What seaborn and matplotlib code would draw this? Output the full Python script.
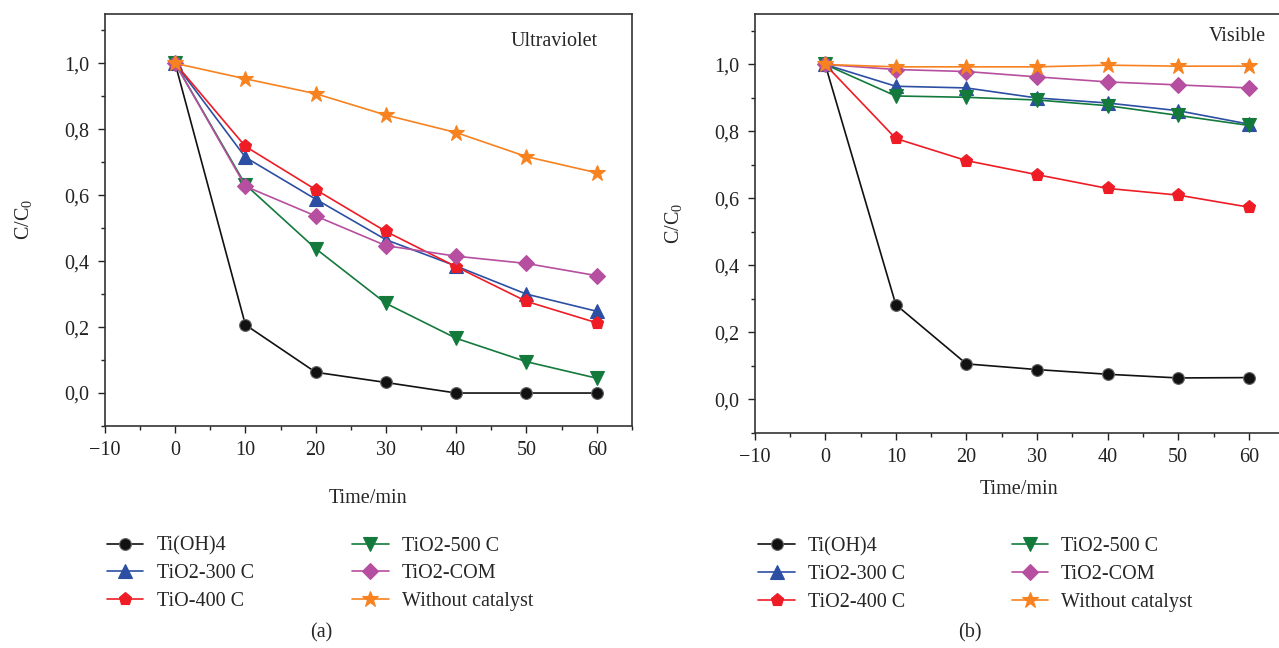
import numpy as np
import pandas as pd
import matplotlib
matplotlib.use("Agg")
import matplotlib.pyplot as plt
from matplotlib.ticker import MultipleLocator, FuncFormatter
import seaborn as sns

time = [0, 10, 20, 30, 40, 50, 60]

uv_tioh4 = [1.0, 0.207, 0.063, 0.032, 0.0, 0.0, 0.0]
uv_300 = [1.0, 0.715, 0.588, 0.465, 0.385, 0.300, 0.248]
uv_400 = [1.0, 0.748, 0.617, 0.490, 0.383, 0.278, 0.213]
uv_500 = [1.0, 0.632, 0.438, 0.272, 0.166, 0.095, 0.045]
uv_com = [1.0, 0.627, 0.537, 0.447, 0.415, 0.393, 0.356]
uv_none = [1.0, 0.953, 0.908, 0.843, 0.790, 0.717, 0.668]

vis_tioh4 = [1.0, 0.283, 0.106, 0.089, 0.075, 0.064, 0.065]
vis_300 = [1.0, 0.935, 0.930, 0.900, 0.885, 0.862, 0.822]
vis_400 = [1.0, 0.779, 0.713, 0.671, 0.630, 0.610, 0.574]
vis_500 = [1.0, 0.906, 0.902, 0.894, 0.877, 0.848, 0.818]
vis_com = [1.0, 0.985, 0.979, 0.963, 0.948, 0.939, 0.930]
vis_none = [1.0, 0.993, 0.993, 0.993, 0.998, 0.995, 0.995]

labels_uv = ["Ti(OH)4", "TiO2-300 C", "TiO-400 C", "TiO2-500 C", "TiO2-COM", "Without catalyst"]
labels_vis = ["Ti(OH)4", "TiO2-300 C", "TiO2-400 C", "TiO2-500 C", "TiO2-COM", "Without catalyst"]

colors = ["#111111", "#2c4fa3", "#ee1c25", "#137a3c", "#b64f9f", "#f7821f"]
markers = ["o", "^", "p", "v", "D", "*"]
msizes = [8.5, 9.5, 9.5, 9.5, 8.5, 12]

sns.set_theme(style="ticks")
plt.rcParams["font.family"] = ["Liberation Serif", "DejaVu Serif"]
plt.rcParams["mathtext.fontset"] = "custom"
plt.rcParams["mathtext.rm"] = "Liberation Serif"
plt.rcParams["mathtext.it"] = "Liberation Serif:italic"

fig = plt.figure(figsize=(12.79, 6.48), dpi=100)
ax1 = fig.add_axes([0.082, 0.3426, 0.412, 0.636])
ax2 = fig.add_axes([0.590, 0.332, 0.414, 0.646])

FS = 14.5

def draw(ax, series, labels, panel_text, text_xy, letter, letter_x, leg_anchor, colsp,
         xlabel_pad, ylabel_pad):
    for vals, lab, c, m, ms in zip(series, labels, colors, markers, msizes):
        df = pd.DataFrame({"t": time, "v": vals})
        sns.lineplot(data=df, x="t", y="v", ax=ax, color=c, marker=m, markersize=ms,
                     markeredgecolor=("#666666" if m == "o" else c), markeredgewidth=0.8,
                     linewidth=1.2, label=lab)
    ax.set_xlim(-10, 65)
    ax.set_ylim(-0.1, 1.15)
    ax.xaxis.set_major_locator(MultipleLocator(10))
    ax.xaxis.set_minor_locator(MultipleLocator(5))
    ax.yaxis.set_major_locator(MultipleLocator(0.2))
    ax.yaxis.set_minor_locator(MultipleLocator(0.1))
    ax.yaxis.set_major_formatter(FuncFormatter(lambda v, p: f"{v:.1f}".replace(".", ",").replace("-0,0", "0,0")))
    ax.tick_params(which="major", direction="out", length=5, width=1, labelsize=FS,
                   colors="#222222", pad=6)
    ax.tick_params(which="minor", direction="out", length=3, width=1, colors="#222222")
    for s in ax.spines.values():
        s.set_color("#333333")
        s.set_linewidth(1.2)
    ax.set_xlabel("Time/min", fontsize=FS, labelpad=xlabel_pad)
    ax.set_ylabel("C/C$_0$", fontsize=FS, labelpad=ylabel_pad)
    ax.text(text_xy[0], text_xy[1], panel_text, transform=ax.transAxes, fontsize=FS,
            ha="right", va="top")
    ax.legend(loc="upper left", bbox_to_anchor=leg_anchor, ncol=2, frameon=False,
              fontsize=FS, handlelength=1.8, columnspacing=colsp, labelspacing=0.42,
              handletextpad=0.65)
    fig.text(letter_x, 0.023, letter, ha="center", va="center", fontsize=FS)

draw(ax1, [uv_tioh4, uv_300, uv_400, uv_500, uv_com, uv_none], labels_uv, "Ultraviolet",
     (0.935, 0.955), "(a)", 0.251, (-0.03, -0.224), 4.9, 21, 22)
draw(ax2, [vis_tioh4, vis_300, vis_400, vis_500, vis_com, vis_none], labels_vis, "Visible",
     (0.965, 0.97), "(b)", 0.758, (-0.027, -0.206), 5.3, 9, 22)

fig.savefig("out.png", dpi=100)
